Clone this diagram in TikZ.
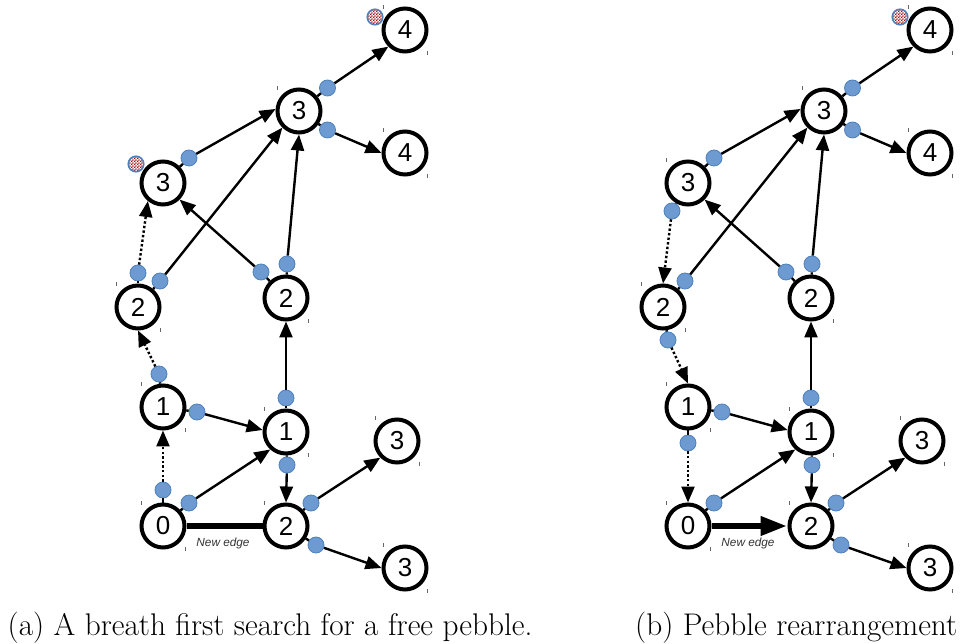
\documentclass[tikz,border=0pt]{standalone}
\usepackage{fontspec}
\newfontfamily\nodefont{Liberation Sans}
\usetikzlibrary{arrows.meta,patterns}
\definecolor{pebblefill}{HTML}{6D9AD0}
\definecolor{pebbleline}{HTML}{4F81BD}
\definecolor{usedred}{HTML}{9E1010}
\pgfdeclarepatternformonly{pebblecheck}{\pgfqpoint{0pt}{0pt}}{\pgfqpoint{3.2pt}{3.2pt}}{\pgfqpoint{3.2pt}{3.2pt}}{
  \pgfpathrectangle{\pgfqpoint{0pt}{0pt}}{\pgfqpoint{1.6pt}{1.6pt}}
  \pgfpathrectangle{\pgfqpoint{1.6pt}{1.6pt}}{\pgfqpoint{1.6pt}{1.6pt}}
  \pgfusepath{fill}
}
\tikzset{
  vertex/.style={circle, draw=black, line width=4pt, fill=white, minimum size=43pt,
                 inner sep=0pt, font=\nodefont\fontsize{26}{26}\selectfont},
  pebble/.style={circle, draw=pebbleline, line width=0.8pt, fill=pebblefill,
                 minimum size=16pt, inner sep=0pt},
  usedpebble/.style={circle, draw=pebbleline, line width=1.6pt, minimum size=15.5pt, inner sep=0pt,
                 preaction={fill=white}, pattern=pebblecheck, pattern color=usedred},
  edge/.style={draw=black, line width=2.4pt, -{Triangle[length=16pt,width=13pt]}},
  stub/.style={draw=black, line width=2.4pt},
  search/.style={edge, dash pattern=on 2.4pt off 2.2pt},
  newedge/.style={draw=black, line width=6.8pt},
  handle/.style={draw=black!60, line width=0.7pt},
  edgelabel/.style={font=\nodefont\itshape\fontsize{11.8}{12}\selectfont, text=black!80},
  caption/.style={anchor=base west, inner sep=0pt, font=\fontsize{31.3}{34}\selectfont},
}
\begin{document}
\begin{tikzpicture}[x=1pt,y=-1pt]
\useasboundingbox (0,0) rectangle (962,644);

\foreach \pan/\dx in {a/0,b/525}{
\begin{scope}[xshift=\dx pt]
  \foreach \nd/\px/\py/\val in {s/163/526/0, t/286/526/2, u/286/432/1, v/163/407/1,
                                w/138/307/2, x/286/298/2, y/163/183/3, z/299/111/3,
                                m/405/30/4, q/405/153/4, r/397/441/3, o/405/568/3}{
    \node[vertex] (\pan-\nd) at (\px,\py) {\val};
    \draw[handle] (\px-22,\py-25) -- (\px-22,\py-21);
  }
  % corner marks, lower right
  \foreach \px/\py in {185/548, 308/454, 185/429, 160/329, 308/320,
                       427/52, 427/175, 419/463, 427/590}{
    \draw[handle] (\px,\py-1) -- (\px,\py+3);
  }
  \foreach \nd/\px/\py/\from/\dest/\ang in {zm/327.5/88/z/m/225, zq/327.5/130/z/q/180, yz/189/158/y/z/175,
                                            wz/160/281/w/z/225, xy/261/272/x/y/-45, xz/287/264/x/z/270,
                                            ux/286/398/u/x/270, vu/197/412/v/u/175, su/189/503/s/u/228,
                                            ut/287/465/u/t/90, tr/311/503/t/r/225, to/316/545/t/o/180}{
    \node[pebble] (\pan-\nd) at (\px,\py) {};
    \draw[stub] (\pan-\from) -- (\pan-\nd);
    \draw[edge] (\pan-\nd) -- (\pan-\dest.\ang);
  }
  \node[usedpebble] (\pan-free) at (375,17) {};
  \node[edgelabel] (\pan-new) at (223,543) {New edge};
\end{scope}
}

% first panel, search
\foreach \nd/\px/\py/\from/\dest/\ang in {yw/138/273/w/y/230, wv/159/374/v/w/270, vs/163/490/s/v/270}{
  \node[pebble] (a-\nd) at (\px,\py) {};
  \draw[stub] (a-\from) -- (a-\nd);
  \draw[search] (a-\nd) -- (a-\dest.\ang);
}
\node[usedpebble] (a-used) at (136,164) {};
\draw[newedge] (a-s) -- (a-t);

% second panel, rearranged
\foreach \nd/\px/\py/\from/\dest/\ang in {yw/672/211/y/w/90, wv/668/340/w/v/90, vs/688/443/v/s/90}{
  \node[pebble] (b-\nd) at (\px,\py) {};
  \draw[stub] (b-\from) -- (b-\nd);
  \draw[search] (b-\nd) -- (b-\dest.\ang);
}
\draw[newedge, -{Triangle[length=27pt,width=18pt]}] (b-s) -- (b-t);

\node[caption] (capa) at (7.5,635) {(a) A breath first search for a free pebble.};
\node[caption] (capb) at (635,635) {(b) Pebble rearrangement};
\end{tikzpicture}
\end{document}
